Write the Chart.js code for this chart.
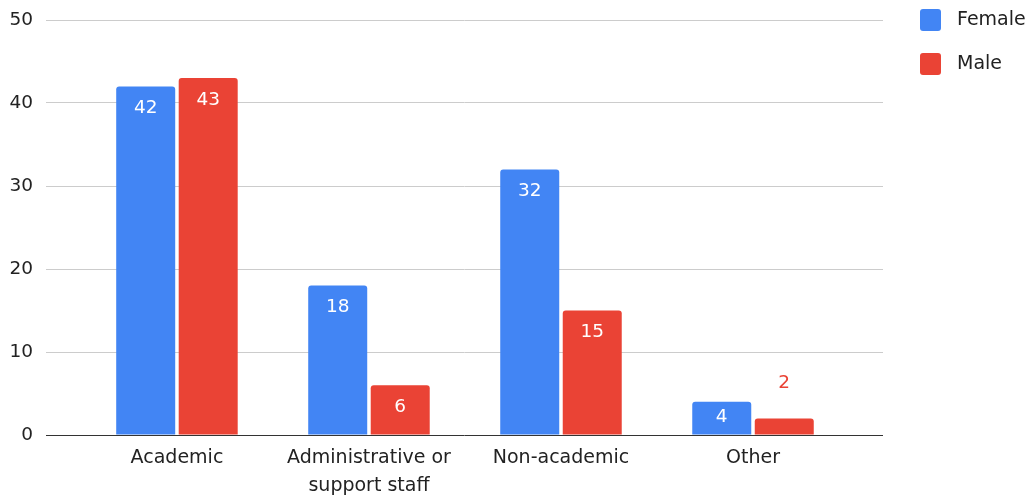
<!DOCTYPE html>
<html>
<head>
<meta charset="utf-8">
<script src="https://cdn.jsdelivr.net/npm/chart.js@4/dist/chart.umd.min.js"></script>
<style>
  html, body { margin: 0; padding: 0; background: #fff; }
  #wrap { width: 1035px; height: 500px; position: relative; }
</style>
</head>
<body>
<div id="wrap"><canvas id="c" width="1035" height="500"></canvas></div>
<script>
const categories = [["Academic"], ["Administrative or", "support staff"], ["Non-academic"], ["Other"]];
const seriesNames = ["Female", "Male"];
const femaleValues = [42, 18, 32, 4];
const maleValues = [43, 6, 15, 2];
const yTicks = [0, 10, 20, 30, 40, 50];
const colors = ["#4285F4", "#EA4335"];

const FONT = "'DejaVu Sans', sans-serif";
const TEXT = "#222222";

function toPoints(vals) { return vals.map((v, i) => ({ x: i, y: v })); }

const dataLabelPlugin = {
  id: 'dataLabels',
  afterDatasetsDraw(chart) {
    const ctx = chart.ctx;
    ctx.save();
    ctx.font = "18.5px " + FONT;
    ctx.textAlign = 'center';
    ctx.textBaseline = 'middle';
    chart.data.datasets.forEach((ds, di) => {
      const meta = chart.getDatasetMeta(di);
      meta.data.forEach((el, i) => {
        const v = ds.data[i].y;
        const h = el.base - el.y;
        let y, color;
        if (h >= 30) {
          y = Math.min(el.y + 22, el.base - 17);
          color = '#ffffff';
        } else {
          y = el.y - 35;
          color = ds.backgroundColor;
        }
        ctx.fillStyle = color;
        ctx.fillText(String(v), el.x, y);
      });
    });
    ctx.restore();
  }
};

const legendPlugin = {
  id: 'customLegend',
  afterDraw(chart) {
    const ctx = chart.ctx;
    ctx.save();
    chart.data.datasets.forEach((ds, i) => {
      const top = 9 + i * 44;
      ctx.fillStyle = ds.backgroundColor;
      ctx.beginPath();
      ctx.roundRect(920, top, 21, 22, 3);
      ctx.fill();
      ctx.fillStyle = TEXT;
      ctx.font = "19px " + FONT;
      ctx.textAlign = 'left';
      ctx.textBaseline = 'middle';
      ctx.fillText(ds.label, 957, top + 11);
    });
    ctx.restore();
  }
};

new Chart(document.getElementById('c'), {
  type: 'bar',
  data: {
    datasets: [
      { label: seriesNames[0], data: toPoints(femaleValues), backgroundColor: colors[0], borderRadius: 3, borderSkipped: 'start' },
      { label: seriesNames[1], data: toPoints(maleValues), backgroundColor: colors[1], borderRadius: 3, borderSkipped: 'start' }
    ]
  },
  options: {
    responsive: false,
    animation: false,
    devicePixelRatio: 1,
    categoryPercentage: 0.651,
    barPercentage: 0.944,
    layout: { padding: { left: 0, right: 152, top: 20, bottom: 0 } },
    plugins: { legend: { display: false }, tooltip: { enabled: false } },
    scales: {
      x: {
        type: 'linear',
        offset: false,
        min: -0.682,
        max: 3.677,
        afterBuildTicks(scale) { scale.ticks = categories.map((c, i) => ({ value: i })); },
        afterFit(scale) { scale.height = 65; scale.paddingLeft = 0; scale.paddingRight = 0; },
        grid: { display: false, drawTicks: false, offset: false },
        border: { display: false },
        ticks: {
          autoSkip: false,
          maxRotation: 0,
          padding: 9,
          color: TEXT,
          font: { family: FONT, size: 19, lineHeight: 1.47 },
          callback(value) { return categories[value] || ''; }
        }
      },
      y: {
        min: 0,
        max: 50,
        afterBuildTicks(scale) { scale.ticks = yTicks.map(v => ({ value: v })); },
        afterFit(scale) { scale.width = 46; scale.paddingTop = 0; scale.paddingBottom = 0; },
        grid: {
          drawTicks: false,
          color: (c) => (c.tick && c.tick.value === 0) ? '#333333' : '#cccccc',
          lineWidth: 1
        },
        border: { display: false },
        ticks: {
          padding: 13,
          color: TEXT,
          font: { family: FONT, size: 18.5 }
        }
      }
    }
  },
  plugins: [dataLabelPlugin, legendPlugin]
});
</script>
</body>
</html>
